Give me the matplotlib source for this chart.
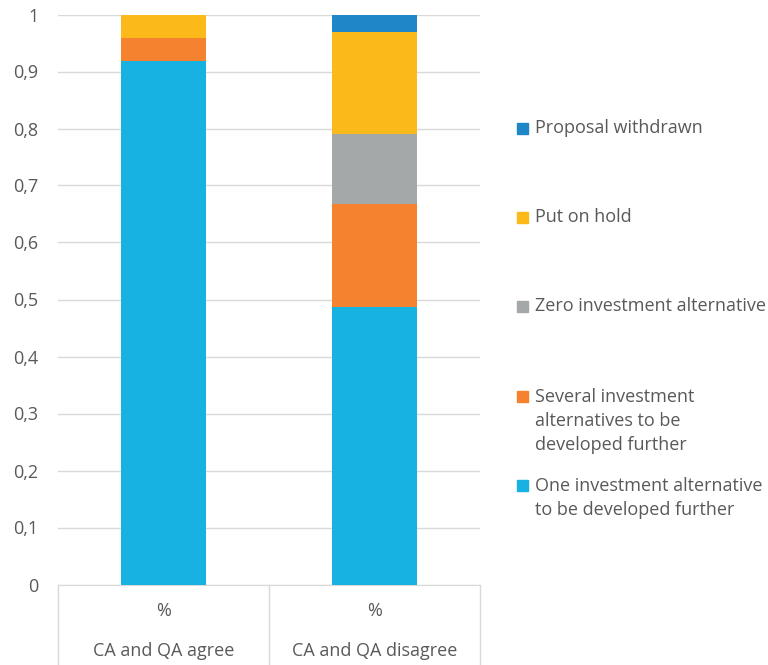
import matplotlib.pyplot as plt
from matplotlib.patches import Rectangle
from matplotlib.ticker import FuncFormatter
import numpy as np

plt.rcParams['font.family'] = ['Open Sans', 'DejaVu Sans']

# --- Data ---------------------------------------------------------------
categories = ["CA and QA agree", "CA and QA disagree"]
sub_labels = ["%", "%"]

series_names = [
    "One investment alternative\nto be developed further",
    "Several investment\nalternatives to be\ndeveloped further",
    "Zero investment alternative",
    "Put on hold",
    "Proposal withdrawn",
]
one_alt = [0.919, 0.486]
several_alt = [0.040, 0.182]
zero_alt = [0.0, 0.122]
on_hold = [0.041, 0.180]
withdrawn = [0.0, 0.030]

colors = ["#17B2E2", "#F4822F", "#A5A8A9", "#FBBA1A", "#1F87C8"]
TEXT = "#595959"
GRID = "#D9D9D9"
FS = 13

fig = plt.figure(figsize=(7.68, 6.65), dpi=100)
ax = fig.add_axes([58 / 768, 80.5 / 665, 422 / 768, 570 / 665])

x = np.arange(len(categories))
bottom = np.zeros(len(categories))
for vals, col in zip([one_alt, several_alt, zero_alt, on_hold, withdrawn], colors):
    ax.bar(x, vals, width=0.40, bottom=bottom, color=col, zorder=3)
    bottom += np.array(vals)

ax.set_xlim(-0.5, len(categories) - 0.5)
ax.set_ylim(0, 1)
ax.set_yticks(np.arange(0, 1.01, 0.1))
ax.yaxis.set_major_formatter(FuncFormatter(
    lambda v, _: "0" if abs(v) < 1e-9 else ("1" if abs(v - 1) < 1e-9 else f"{v:.1f}".replace(".", ","))))
ax.tick_params(axis="y", length=0, pad=14, labelsize=FS, labelcolor=TEXT)
ax.tick_params(axis="x", length=0, labelbottom=False)
ax.grid(axis="y", color=GRID, lw=1, zorder=0)
for s in ["top", "right", "left"]:
    ax.spines[s].set_visible(False)
ax.spines["bottom"].set_color(GRID)

# category box under the axis
for xv in np.arange(len(categories) + 1) - 0.5:
    ax.plot([xv, xv], [0, -0.15], transform=ax.get_xaxis_transform(),
            color=GRID, lw=1, clip_on=False)
for i, (cat, sub) in enumerate(zip(categories, sub_labels)):
    ax.text(i, -0.0465, sub, transform=ax.get_xaxis_transform(),
            ha="center", va="center", fontsize=FS, color=TEXT)
    ax.text(i, -0.117, cat, transform=ax.get_xaxis_transform(),
            ha="center", va="center", fontsize=FS, color=TEXT)

# legend, Excel-style spread out on the right
legend_y = [128, 217, 306, 421, 498]
order = [4, 3, 2, 1, 0]
for yp, idx in zip(legend_y, order):
    n_lines = series_names[idx].count("\n") + 1
    top_line = yp - (n_lines - 1) * 25 / 2
    fig.patches.append(Rectangle((517 / 768, 1 - (top_line + 5.5) / 665), 11 / 768, 11 / 665,
                                 transform=fig.transFigure, color=colors[idx]))
    fig.text(535 / 768, 1 - yp / 665, series_names[idx], ha="left", va="center",
             fontsize=FS, color=TEXT, linespacing=1.42)

fig.savefig("out.png", dpi=100)
